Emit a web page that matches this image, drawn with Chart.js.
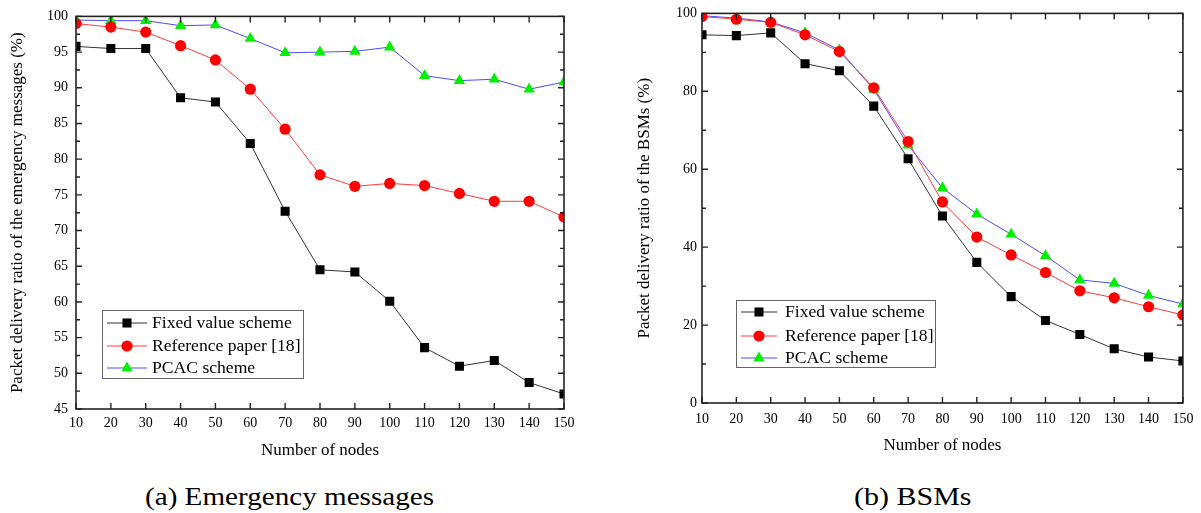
<!DOCTYPE html>
<html>
<head>
<meta charset="utf-8">
<script src="https://cdn.jsdelivr.net/npm/chart.js@4.4.1/dist/chart.umd.min.js"></script>
<style>
  html, body { margin: 0; padding: 0; background: #fff; }
  #wrap { position: relative; width: 1201px; height: 513px; overflow: hidden; }
  .panel { position: absolute; top: 0; height: 470px; }
  #pa { left: 0; width: 600px; }
  #pb { left: 600px; width: 601px; }
  .cap {
    position: absolute; top: 484px; white-space: nowrap;
    font-family: 'Liberation Serif', 'Times New Roman', serif;
    font-size: 25px; line-height: 1; color: #000;
    transform-origin: left top;
  }
  #cap-a { left: 145px; transform: scaleX(1.165); }
  #cap-b { left: 854px; transform: scaleX(1.2); }
</style>
</head>
<body>
<div id="wrap">
  <div class="panel" id="pa"><canvas id="chart-a"></canvas></div>
  <div class="panel" id="pb"><canvas id="chart-b"></canvas></div>
  <div class="cap" id="cap-a">(a) Emergency messages</div>
  <div class="cap" id="cap-b">(b) BSMs</div>
</div>
<script>
// ── data ──
const nodes = [10, 20, 30, 40, 50, 60, 70, 80, 90, 100, 110, 120, 130, 140, 150];

// (a) emergency messages
const emFixed = [95.8, 95.5, 95.5, 88.6, 88.0, 82.2, 72.7, 64.5, 64.2, 60.1, 53.6, 51.0, 51.8, 48.7, 47.1];
const emRef   = [99.0, 98.5, 97.8, 95.9, 93.9, 89.8, 84.2, 77.8, 76.2, 76.6, 76.3, 75.2, 74.1, 74.1, 71.9];
const emPcac  = [99.5, 99.4, 99.4, 98.7, 98.8, 96.9, 94.9, 95.0, 95.1, 95.7, 91.7, 91.0, 91.2, 89.8, 90.8];

// (b) BSMs
const bsmFixed = [94.5, 94.3, 95.0, 87.1, 85.3, 76.2, 62.7, 48.0, 36.1, 27.3, 21.2, 17.6, 13.9, 11.8, 10.8];
const bsmRef   = [99.2, 98.5, 97.7, 94.5, 90.2, 80.9, 67.1, 51.6, 42.6, 38.0, 33.5, 28.8, 27.0, 24.7, 22.6];
const bsmPcac  = [99.4, 98.8, 97.8, 95.0, 90.6, 80.5, 66.2, 55.2, 48.5, 43.3, 37.8, 31.6, 30.7, 27.6, 25.4];

const seriesNames = ['Fixed value scheme', 'Reference paper [18]', 'PCAC scheme'];

const FONT = "'Liberation Serif', 'Times New Roman', serif";

const STYLES = [
  { line: '#333333', fill: '#000000', shape: 'rect',     radius: 6.4 },
  { line: '#ff3b3b', fill: '#ff0000', shape: 'circle',   radius: 5.6 },
  { line: '#4a4aff', fill: '#00f000', shape: 'triangle', radius: 6.6 },
];

function toPoints(values) {
  return values.map((v, i) => ({ x: nodes[i], y: v }));
}

function makeDatasets(lists) {
  return lists.map((vals, i) => ({
    label: seriesNames[i],
    data: toPoints(vals),
    borderColor: STYLES[i].line,
    borderWidth: 1,
    pointStyle: STYLES[i].shape,
    pointRadius: STYLES[i].radius,
    pointBackgroundColor: STYLES[i].fill,
    pointBorderColor: STYLES[i].fill,
    pointBorderWidth: 0,
    tension: 0,
  }));
}

// frame + inward tick marks, placed by the chart's own scales
const frameTicks = {
  id: 'frameTicks',
  afterDatasetsDraw(chart, args, opts) {
    const { ctx, chartArea: a, scales: { x, y } } = chart;
    ctx.save();
    ctx.strokeStyle = '#222';
    ctx.lineWidth = 1.6;
    ctx.strokeRect(a.left, a.top, a.right - a.left, a.bottom - a.top);
    ctx.lineWidth = 1.4;
    ctx.beginPath();
    x.ticks.forEach(t => {
      const px = x.getPixelForValue(t.value);
      ctx.moveTo(px, a.bottom); ctx.lineTo(px, a.bottom - 6);
      ctx.moveTo(px, a.top);    ctx.lineTo(px, a.top + 6);
    });
    y.ticks.forEach((t, i) => {
      const py = y.getPixelForValue(t.value);
      ctx.moveTo(a.left, py);  ctx.lineTo(a.left + 6, py);
      ctx.moveTo(a.right, py); ctx.lineTo(a.right - 6, py);
      if (i < y.ticks.length - 1) {
        const pm = y.getPixelForValue((t.value + y.ticks[i + 1].value) / 2);
        ctx.moveTo(a.left, pm);  ctx.lineTo(a.left + 4, pm);
        ctx.moveTo(a.right, pm); ctx.lineTo(a.right - 4, pm);
      }
    });
    ctx.stroke();
    ctx.restore();
  }
};

// Origin-style legend box inside the plot
const boxLegend = {
  id: 'boxLegend',
  afterDraw(chart, args, o) {
    const ctx = chart.ctx;
    ctx.save();
    ctx.fillStyle = '#fff';
    ctx.fillRect(o.x, o.y, o.w, o.h);
    ctx.strokeStyle = '#666';
    ctx.lineWidth = 1;
    ctx.strokeRect(o.x + 0.5, o.y + 0.5, o.w, o.h);
    chart.data.datasets.forEach((ds, i) => {
      const cy = o.rows[i];
      ctx.strokeStyle = ds.borderColor;
      ctx.lineWidth = 1;
      ctx.beginPath();
      ctx.moveTo(o.lx0, cy); ctx.lineTo(o.lx1, cy);
      ctx.stroke();
      const mx = (o.lx0 + o.lx1) / 2;
      const r = ds.pointRadius;
      ctx.fillStyle = ds.pointBackgroundColor;
      ctx.beginPath();
      if (ds.pointStyle === 'rect') {
        const s = Math.SQRT1_2 * r;
        ctx.rect(mx - s, cy - s, 2 * s, 2 * s);
      } else if (ds.pointStyle === 'circle') {
        ctx.arc(mx, cy, r, 0, Math.PI * 2);
      } else {
        ctx.moveTo(mx, cy - r);
        ctx.lineTo(mx + r * 0.866, cy + r * 0.5);
        ctx.lineTo(mx - r * 0.866, cy + r * 0.5);
        ctx.closePath();
      }
      ctx.fill();
      ctx.save();
      ctx.translate(o.tx, cy);
      ctx.scale(1.1, 1);
      ctx.fillStyle = '#000';
      ctx.font = '16px ' + FONT;
      ctx.textBaseline = 'middle';
      ctx.fillText(ds.label, 0, 1);
      ctx.restore();
    });
    ctx.restore();
  }
};

function buildChart(id, lists, cfg) {
  return new Chart(document.getElementById(id), {
    type: 'line',
    data: { datasets: makeDatasets(lists) },
    plugins: [frameTicks, boxLegend],
    options: {
      responsive: true,
      maintainAspectRatio: false,
      animation: false,
      events: [],
      layout: { padding: { top: 11, right: cfg.padRight, bottom: 0, left: 0 } },
      plugins: {
        legend: { display: false },
        tooltip: { enabled: false },
        boxLegend: cfg.legend,
      },
      scales: {
        x: {
          type: 'linear',
          min: 10, max: 150,
          afterFit: s => { s.height = cfg.xHeight; },
          ticks: { stepSize: 10, padding: cfg.xTickPad, color: '#000', font: { family: FONT, size: 14 } },
          grid: { display: false, drawTicks: false },
          border: { display: false },
          title: {
            display: true, text: 'Number of nodes', color: '#000',
            font: { family: FONT, size: 17 },
            padding: { top: 0, bottom: cfg.xTitlePad },
          },
        },
        y: {
          min: cfg.yMin, max: 100,
          afterFit: s => { s.width = cfg.yWidth; },
          ticks: { stepSize: cfg.yStep, padding: cfg.yTickPad, color: '#000', font: { family: FONT, size: 14 } },
          grid: { display: false, drawTicks: false },
          border: { display: false },
          title: {
            display: true, text: cfg.yTitle, color: '#000',
            font: { family: FONT, size: 17 },
            padding: { top: cfg.yTitlePad, bottom: 0 },
          },
        },
      },
    },
  });
}

buildChart('chart-a', [emFixed, emRef, emPcac], {
  yMin: 45, yStep: 5,
  yTitle: 'Packet delivery ratio of the emergency messages (%)',
  padRight: 36, xHeight: 61, yWidth: 76,
  xTickPad: 6, xTitlePad: 8.8, yTickPad: 8, yTitlePad: 7.8,
  legend: { x: 102, y: 310, w: 201, h: 68, rows: [323, 346, 368], lx0: 107, lx1: 147, tx: 152 },
});

buildChart('chart-b', [bsmFixed, bsmRef, bsmPcac], {
  yMin: 0, yStep: 20,
  yTitle: 'Packet delivery ratio of the BSMs (%)',
  padRight: 16, xHeight: 67, yWidth: 102,
  xTickPad: 7.6, xTitlePad: 13.8, yTickPad: 5, yTitlePad: 34.8,
  legend: { x: 136, y: 300, w: 199, h: 67, rows: [312, 336, 358], lx0: 141, lx1: 177, tx: 185 },
});
</script>
</body>
</html>
